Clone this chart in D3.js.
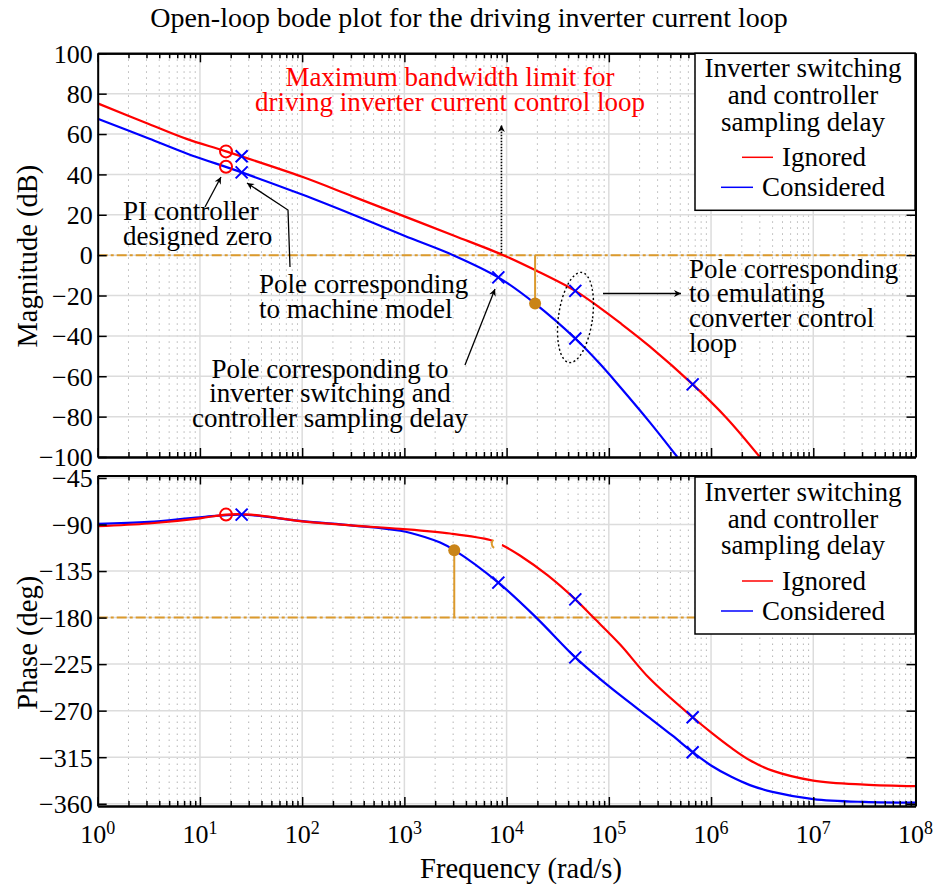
<!DOCTYPE html>
<meta charset="utf-8">
<head>
<style>
body { margin: 0; background: #fff; }
</style>
</head>
<body>
<div id="my_dataviz"></div>
<script src="https://d3js.org/d3.v7.min.js"></script>
<script>

// ---- data (rad/s, dB, deg) ----
var redMagW  = [1, 3.16, 7.41, 18, 100, 316, 1000, 3160, 9270, 19000, 47000, 81300, 129000, 251000, 661000, 1.41e6, 3.0e6];
var redMagDb = [75.2, 65.0, 57.6, 51.4, 38.8, 29.0, 19.2, 9.4, 0, -7.4, -17.7, -26, -33.6, -45.2, -64, -80.5, -100];

var blueMagW  = [1, 3.16, 7.41, 25.6, 100, 316, 1000, 3000, 8300, 19000, 47000, 81300, 129000, 251000, 468000];
var blueMagDb = [67.6, 57.8, 50.4, 41, 30.0, 20.0, 9.6, 0, -11, -24, -41.3, -53.7, -65.3, -82.7, -100];

var redPhW   = [1, 3.16, 10, 18, 31.6, 100, 316, 912, 2800, 6900, 9100, 13500, 25100, 47000, 70800, 129000, 251000, 661000, 1e6, 1.58e6, 2.4e6, 3.98e6, 1e7, 3.16e7, 1e8];
var redPhDeg = [-91.7, -89, -84, -80.4, -80.5, -87, -91, -94.2, -98.7, -105, -110, -120, -139, -162.4, -180, -206, -239, -276.4, -291, -306, -318, -328, -337.6, -341.5, -343];

var bluePhW   = [1, 3.16, 10, 25.6, 100, 316, 912, 1580, 2240, 3076, 8300, 19500, 47000, 81300, 129000, 251000, 417000, 661000, 1e6, 1.58e6, 2.4e6, 3.98e6, 1e7, 3.16e7, 1e8];
var bluePhDeg = [-89.4, -87.5, -83, -80.4, -86.8, -91, -96, -102, -107.5, -114.8, -146.2, -180, -218.5, -239, -255, -277, -294, -310.2, -323, -334, -342, -348.5, -355.5, -358.3, -359];

// markers
var zeroW = 18, poleW = 25.6;
var redCircMag  = [51.4, 43.8];      // PI zero on both curves
var blueCrossMag = [49, 41];         // machine pole on both curves
var zeroPh = -80.4;
var delayPoleW = 8300, delayPoleMag = -11, delayPolePh = -146.2;
var emuPoleW = 47000, emuPoleMag = [-17.7, -41.3], emuPolePh = [-162.4, -218.5];
var hiPoleW = 661000, hiPoleMag = -64, hiPolePh = [-276.4, -310.2];
var gmW = 19000, gmMag = -24;        // gain margin point
var pmW = 3076, pmPh = -114.8;       // phase margin point
var redCrossW = 8000, redCrossPh = -108.5;

var magTicks = [-100, -80, -60, -40, -20, 0, 20, 40, 60, 80, 100];
var phTicks = [-45, -90, -135, -180, -225, -270, -315, -360];
var decades = [1, 10, 100, 1e3, 1e4, 1e5, 1e6, 1e7, 1e8];

var RED = "#ff0000", BLUE = "#0000ff", ORANGE = "#dc9a2c", DOT = "#c98418";
var FONT = "'Liberation Serif', 'Times New Roman', serif";

// ---- layout ----
var W = 936, H = 890;
var left = 97.7, right = 915.5;
var magTop = 53.3, magBot = 457;
var phTop = 475.5, phBot = 806;

var svg = d3.select("#my_dataviz").append("svg")
    .attr("width", W).attr("height", H);

var defs = svg.append("defs");
defs.append("marker").attr("id", "arr")
    .attr("viewBox", "0 0 10 10").attr("refX", 10).attr("refY", 5)
    .attr("markerWidth", 11).attr("markerHeight", 7).attr("markerUnits", "userSpaceOnUse")
    .attr("orient", "auto")
  .append("path").attr("d", "M0,0 L10,5 L0,10 L3,5 z").attr("fill", "#000");

var x = d3.scaleLog().domain([1, 1e8]).range([left, right]);
var yMag = d3.scaleLinear().domain([-100, 100]).range([magBot, magTop]);
var yPh = d3.scaleLinear().domain([-362.2, -42.6]).range([phBot, phTop]);

function panel(y, top, bot, ticks, id) {
  var g = svg.append("g");
  defs.append("clipPath").attr("id", id)
    .append("rect").attr("x", left).attr("y", top).attr("width", right - left).attr("height", bot - top);

  var all = x.ticks();
  var minor = all.filter(function(d) { return decades.indexOf(d) < 0; });

  // grid
  g.selectAll(".mg").data(minor).enter().append("line")
    .attr("x1", function(d) { return x(d); }).attr("x2", function(d) { return x(d); })
    .attr("y1", top).attr("y2", bot)
    .attr("stroke", "#b4b4b4").attr("stroke-width", 1).attr("stroke-dasharray", "1.5,4.5");
  g.selectAll(".gx").data(decades).enter().append("line")
    .attr("x1", function(d) { return x(d); }).attr("x2", function(d) { return x(d); })
    .attr("y1", top).attr("y2", bot)
    .attr("stroke", "#dcdcdc").attr("stroke-width", 1.5);
  g.selectAll(".gy").data(ticks).enter().append("line")
    .attr("x1", left).attr("x2", right)
    .attr("y1", function(d) { return y(d); }).attr("y2", function(d) { return y(d); })
    .attr("stroke", "#dcdcdc").attr("stroke-width", 1.5);

  // axes (ticks inward, box on)
  function style(a) {
    a.select(".domain").attr("stroke", "#000").attr("stroke-width", 2);
    a.selectAll(".tick line").attr("stroke", "#000").attr("stroke-width", 1.5);
  }
  [["bottom", bot], ["top", top]].forEach(function(p) {
    var mk = p[0] == "bottom" ? d3.axisBottom : d3.axisTop;
    svg.append("g").attr("transform", "translate(0," + p[1] + ")")
      .call(mk(x).tickValues(minor).tickSize(-5).tickFormat("").tickSizeOuter(0)).call(style);
    svg.append("g").attr("transform", "translate(0," + p[1] + ")")
      .call(mk(x).tickValues(decades).tickSize(-9).tickFormat("").tickSizeOuter(0)).call(style);
  });
  svg.append("g").attr("transform", "translate(" + left + ",0)")
    .call(d3.axisLeft(y).tickValues(ticks).tickSize(-9).tickSizeOuter(0).tickPadding(5))
    .call(style)
    .selectAll("text").attr("font-size", 26).attr("fill", "#000").attr("dy", "0.34em");
  svg.append("g").attr("transform", "translate(" + right + ",0)")
    .call(d3.axisRight(y).tickValues(ticks).tickSize(-9).tickSizeOuter(0).tickFormat(""))
    .call(style);
  return g;
}

var gMag = panel(yMag, magTop, magBot, magTicks, "clipMag");
var gPh = panel(yPh, phTop, phBot, phTicks, "clipPh");

// x tick labels 10^n
svg.selectAll(".xl").data(decades).enter().append("text")
    .attr("x", function(d) { return x(d); }).attr("y", 843)
    .attr("text-anchor", "middle").attr("font-size", 26)
  .each(function(d, i) {
    var t = d3.select(this);
    t.append("tspan").text("10");
    t.append("tspan").attr("font-size", 18).attr("dy", -9).text(i);
  });

// axis titles
svg.append("text").attr("x", 469).attr("y", 27).attr("text-anchor", "middle")
  .attr("font-size", 28).text("Open-loop bode plot for the driving inverter current loop");
svg.append("text").attr("x", 521).attr("y", 878).attr("text-anchor", "middle")
  .attr("font-size", 28.5).text("Frequency (rad/s)");
svg.append("text").attr("transform", "translate(37," + ((magTop + magBot) / 2 + 1) + ") rotate(-90)")
  .attr("text-anchor", "middle").attr("font-size", 28.5).text("Magnitude (dB)");
svg.append("text").attr("transform", "translate(37," + ((phTop + phBot) / 2 + 2) + ") rotate(-90)")
  .attr("text-anchor", "middle").attr("font-size", 28.5).text("Phase (deg)");

// reference lines (0 dB, -180 deg)
gMag.append("line").attr("x1", left).attr("x2", right).attr("y1", yMag(0)).attr("y2", yMag(0))
  .attr("stroke", ORANGE).attr("stroke-width", 2).attr("stroke-dasharray", "10,3,3,3");
gPh.append("line").attr("x1", left).attr("x2", right).attr("y1", yPh(-180)).attr("y2", yPh(-180))
  .attr("stroke", ORANGE).attr("stroke-width", 2).attr("stroke-dasharray", "10,3,3,3");

// curves
function curve(g, ws, vs, y, color, clip) {
  var pts = ws.map(function(w, i) { return [x(w), y(vs[i])]; });
  g.append("path").datum(pts)
    .attr("clip-path", "url(#" + clip + ")")
    .attr("fill", "none").attr("stroke", color).attr("stroke-width", 2.2)
    .attr("d", d3.line().curve(d3.curveCatmullRom.alpha(0.5)));
}
curve(gMag, blueMagW, blueMagDb, yMag, BLUE, "clipMag");
curve(gMag, redMagW, redMagDb, yMag, RED, "clipMag");
curve(gPh, bluePhW, bluePhDeg, yPh, BLUE, "clipPh");
curve(gPh, redPhW, redPhDeg, yPh, RED, "clipPh");

// margin stems and dots
gMag.append("line").attr("x1", x(gmW)).attr("x2", x(gmW)).attr("y1", yMag(0)).attr("y2", yMag(gmMag))
  .attr("stroke", ORANGE).attr("stroke-width", 2);
gMag.append("circle").attr("cx", x(gmW)).attr("cy", yMag(gmMag)).attr("r", 6).attr("fill", DOT);
gPh.append("line").attr("x1", x(pmW)).attr("x2", x(pmW)).attr("y1", yPh(-180)).attr("y2", yPh(pmPh))
  .attr("stroke", ORANGE).attr("stroke-width", 2);
gPh.append("circle").attr("cx", x(pmW)).attr("cy", yPh(pmPh)).attr("r", 6).attr("fill", DOT);
gPh.append("circle").attr("cx", x(redCrossW)).attr("cy", yPh(redCrossPh)).attr("r", 5.5).attr("fill", "#fff");
gPh.append("path").attr("transform", "translate(" + x(redCrossW) + "," + yPh(redCrossPh) + ")")
  .attr("d", d3.arc().innerRadius(5).outerRadius(5).startAngle(-2.6).endAngle(-0.7)())
  .attr("fill", "none").attr("stroke", ORANGE).attr("stroke-width", 2);

// pole / zero markers
function circ(g, cx, cy) {
  g.append("circle").attr("cx", cx).attr("cy", cy).attr("r", 6)
    .attr("fill", "none").attr("stroke", RED).attr("stroke-width", 2);
}
function cross(g, cx, cy) {
  g.append("path").attr("d", "M" + (cx - 6) + "," + (cy - 6) + "L" + (cx + 6) + "," + (cy + 6) +
      "M" + (cx - 6) + "," + (cy + 6) + "L" + (cx + 6) + "," + (cy - 6))
    .attr("stroke", BLUE).attr("stroke-width", 2);
}
redCircMag.forEach(function(v) { circ(gMag, x(zeroW), yMag(v)); });
blueCrossMag.forEach(function(v) { cross(gMag, x(poleW), yMag(v)); });
cross(gMag, x(delayPoleW), yMag(delayPoleMag));
emuPoleMag.forEach(function(v) { cross(gMag, x(emuPoleW), yMag(v)); });
cross(gMag, x(hiPoleW), yMag(hiPoleMag));
circ(gPh, x(zeroW), yPh(zeroPh));
cross(gPh, x(poleW), yPh(zeroPh));
cross(gPh, x(delayPoleW), yPh(delayPolePh));
emuPolePh.forEach(function(v) { cross(gPh, x(emuPoleW), yPh(v)); });
hiPolePh.forEach(function(v) { cross(gPh, x(hiPoleW), yPh(v)); });

// annotations
function lines(tx, ty, arr, lh, anchor, color) {
  var t = svg.append("text").attr("x", tx).attr("y", ty).attr("font-size", 27)
    .attr("text-anchor", anchor).attr("fill", color || "#000");
  arr.forEach(function(s, i) {
    t.append("tspan").attr("x", tx).attr("dy", i == 0 ? 0 : lh).text(s);
  });
}
lines(450, 86, ["Maximum bandwidth limit for", "driving inverter current control loop"], 25, "middle", RED);
lines(123, 220, ["PI controller", "designed zero"], 24.5, "start");
lines(259, 293, ["Pole corresponding", "to machine model"], 24.5, "start");
lines(330, 378, ["Pole corresponding to", "inverter switching and", "controller sampling delay"], 24.3, "middle");
lines(689, 277.5, ["Pole corresponding", "to emulating", "converter control", "loop"], 24.8, "start");

function arrow(pts, dotted) {
  svg.append("path").attr("d", d3.line()(pts)).attr("fill", "none")
    .attr("stroke", "#000").attr("stroke-width", dotted ? 1.6 : 1.3)
    .attr("stroke-dasharray", dotted ? "1.5,1.5" : null)
    .attr("marker-end", "url(#arr)");
}
arrow([[x(8900), yMag(0) - 2], [x(8900), 125]], true);
arrow([[205, 207], [221, 177]]);
arrow([[290, 267], [288, 210], [247, 183]]);
arrow([[465, 365], [495, 289]]);
arrow([[603, 293.5], [681, 293.5]]);
svg.append("ellipse").attr("cx", 575.5).attr("cy", 317.5).attr("rx", 17).attr("ry", 45.5)
  .attr("transform", "rotate(8,575.5,317.5)")
  .attr("fill", "none").attr("stroke", "#000").attr("stroke-width", 1.4).attr("stroke-dasharray", "2,2.5");

// legends
function legend(top) {
  var lg = svg.append("g").attr("transform", "translate(0," + top + ")");
  lg.append("rect").attr("x", 695).attr("y", 0).attr("width", 220).attr("height", 157)
    .attr("fill", "#fff").attr("stroke", "#000").attr("stroke-width", 1.5);
  ["Inverter switching", "and controller", "sampling delay"].forEach(function(s, i) {
    lg.append("text").attr("x", 803).attr("y", 24 + i * 26.7).attr("text-anchor", "middle")
      .attr("font-size", 27).text(s);
  });
  lg.append("line").attr("x1", 742).attr("x2", 773).attr("y1", 104).attr("y2", 104).attr("stroke", RED).attr("stroke-width", 1.5);
  lg.append("text").attr("x", 782).attr("y", 113).attr("font-size", 27).text("Ignored");
  lg.append("line").attr("x1", 721).attr("x2", 753).attr("y1", 134).attr("y2", 134).attr("stroke", BLUE).attr("stroke-width", 1.5);
  lg.append("text").attr("x", 762).attr("y", 143).attr("font-size", 27).text("Considered");
}
legend(53.3);
legend(477);

// serif everywhere (inline style wins over the axis default)
svg.selectAll("text").style("font-family", FONT);

</script>
</body>
